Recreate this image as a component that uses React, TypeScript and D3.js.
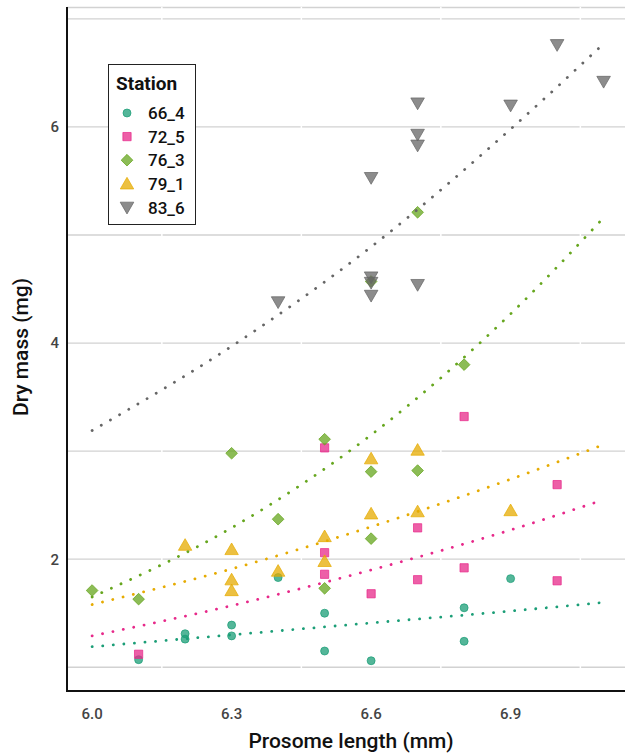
import React from 'react';
import * as d3 from 'd3';

// stations and palette (Dark2)
const stations = ['66_4', '72_5', '76_3', '79_1', '83_6'];
const colors = ['#1b9e77', '#e7298a', '#66a61e', '#e6ab02', '#666666'];

// observed points: [prosome length (mm), dry mass (mg)]
const s66_4 = [[6.1, 1.07], [6.2, 1.31], [6.2, 1.26], [6.3, 1.39], [6.3, 1.29], [6.4, 1.83], [6.5, 1.5], [6.5, 1.15], [6.6, 1.06], [6.8, 1.55], [6.8, 1.24], [6.9, 1.82]];
const s72_5 = [[6.1, 1.12], [6.5, 3.03], [6.5, 2.06], [6.5, 1.86], [6.6, 1.68], [6.7, 2.29], [6.7, 1.81], [6.8, 3.32], [6.8, 1.92], [7.0, 2.69], [7.0, 1.8]];
const s76_3 = [[6.0, 1.71], [6.1, 1.63], [6.3, 2.98], [6.4, 2.37], [6.5, 3.11], [6.5, 1.73], [6.6, 4.57], [6.6, 2.81], [6.6, 2.19], [6.7, 5.21], [6.7, 2.82], [6.8, 3.8]];
const s79_1 = [[6.2, 2.13], [6.3, 2.09], [6.3, 1.81], [6.3, 1.71], [6.4, 1.89], [6.5, 2.21], [6.5, 1.98], [6.6, 2.93], [6.6, 2.42], [6.7, 3.01], [6.7, 2.44], [6.9, 2.45]];
const s83_6 = [[6.4, 4.38], [6.6, 5.53], [6.6, 4.61], [6.6, 4.56], [6.6, 4.44], [6.7, 6.22], [6.7, 5.93], [6.7, 5.83], [6.7, 4.54], [6.9, 6.2], [7.0, 6.76], [7.1, 6.42]];
const points = [s66_4, s72_5, s76_3, s79_1, s83_6];

// fitted trend lines
const trendX = [6.0, 6.3, 6.6, 6.9, 7.1];
const trend66_4 = [1.19, 1.3, 1.41, 1.52, 1.6];
const trend72_5 = [1.29, 1.57, 1.9, 2.27, 2.55];
const trend76_3 = [1.65, 2.29, 3.15, 4.27, 5.16];
const trend79_1 = [1.58, 1.91, 2.3, 2.74, 3.06];
const trend83_6 = [3.19, 3.97, 4.89, 5.98, 6.77];
const trends = [trend66_4, trend72_5, trend76_3, trend79_1, trend83_6];

const xTicks = [6.0, 6.3, 6.6, 6.9];
const xMinor = [6.15, 6.45, 6.75, 7.05];
const yTicks = [2, 4, 6];
const yGrid = [1, 2, 3, 4, 5, 6, 7];

const W = 625;
const H = 755;
const left = 67;
const top = 7;
const bottom = 691;

const x = d3.scaleLinear().domain([5.946, 7.146]).range([left, W]);
const y = d3.scaleLinear().domain([0.78, 7.11]).range([bottom, top]);

// symbol for each station: circle, square, diamond, up triangle, down triangle
const shapes = [
  { type: d3.symbolCircle, size: 50, rot: 0 },
  { type: d3.symbolSquare, size: 68, rot: 0 },
  { type: d3.symbolSquare, size: 68, rot: 45 },
  { type: d3.symbolTriangle, size: 78, rot: 0 },
  { type: d3.symbolTriangle, size: 80, rot: 180 },
];

const Marker = ({ i, cx, cy }) => {
  const s = shapes[i];
  const path = d3.symbol().type(s.type).size(s.size)();
  // shift triangles so their box is centered on the point
  const dy = s.type === d3.symbolTriangle ? (s.rot ? -1 : 1) * Math.sqrt(s.size / (Math.sqrt(3) / 4)) * 0.096 : 0;
  return (
    <path
      d={path}
      transform={`translate(${cx},${cy + dy}) rotate(${s.rot})`}
      fill={colors[i]}
      fillOpacity={0.75}
      stroke={colors[i]}
      strokeOpacity={0.9}
      strokeWidth={0.8}
    />
  );
};

export default function App() {
  const line = d3
    .line<number>()
    .x((d, j) => x(trendX[j]))
    .y((d) => y(d))
    .curve(d3.curveMonotoneX);

  const font = 'Roboto, "DejaVu Sans", sans-serif';

  return (
    <svg width={W} height={H} style={{ position: 'absolute', left: 0, top: 0 }} fontFamily={font}>
      <rect width={W} height={H} fill="#fff" />
      {/* grid */}
      {yGrid.map((v) => (
        <line key={v} x1={left} x2={W} y1={y(v)} y2={y(v)} stroke="#d2d2d2" strokeWidth={1.3} />
      ))}
      <line x1={left} x2={W} y1={top + 0.5} y2={top + 0.5} stroke="#d2d2d2" strokeWidth={1.3} />
      {xMinor.map((v) => (
        <line key={v} x1={x(v)} x2={x(v)} y1={top} y2={bottom} stroke="#fff" strokeWidth={1.5} />
      ))}

      {/* points */}
      {points.map((pts, i) => (
        <g key={stations[i]}>
          {pts.map((p, j) => (
            <Marker key={j} i={i} cx={x(p[0])} cy={y(p[1])} />
          ))}
        </g>
      ))}

      {/* trend lines */}
      {trends.map((t, i) => (
        <path
          key={i}
          d={line(t)}
          fill="none"
          stroke={colors[i]}
          strokeWidth={2.8}
          strokeLinecap="round"
          strokeDasharray="0.1 10.5"
        />
      ))}

      {/* axes */}
      <line x1={left} x2={left} y1={top} y2={bottom + 1} stroke="#111" strokeWidth={2} />
      <line x1={left - 1} x2={W} y1={bottom} y2={bottom} stroke="#111" strokeWidth={2} />
      {xTicks.map((v) => (
        <text key={v} x={x(v)} y={bottom + 28} textAnchor="middle" fontSize={15} fontWeight={500} fill="#444">
          {v.toFixed(1)}
        </text>
      ))}
      {yTicks.map((v) => (
        <text key={v} x={left - 8} y={y(v)} dy="0.36em" textAnchor="end" fontSize={15} fontWeight={500} fill="#444">
          {v}
        </text>
      ))}
      <text x={351} y={748} textAnchor="middle" fontSize={21} fontWeight={500} fill="#111">
        Prosome length (mm)
      </text>
      <text transform={`translate(28,347) rotate(-90)`} textAnchor="middle" fontSize={21} fontWeight={500} fill="#111">
        Dry mass (mg)
      </text>

      {/* legend */}
      <g transform="translate(108,64)">
        <rect x={0.5} y={0.5} width={87} height={160} fill="#fff" stroke="#222" strokeWidth={1} />
        <text x={8} y={26} fontSize={19} fontWeight="bold" fill="#111">
          Station
        </text>
        {stations.map((s, i) => (
          <g key={s} transform={`translate(0,${49 + i * 23.6})`}>
            <Marker i={i} cx={19} cy={0} />
            <text x={40} y={0} dy="0.36em" fontSize={17} fontWeight={500} fill="#111">
              {s}
            </text>
          </g>
        ))}
      </g>
    </svg>
  );
}
